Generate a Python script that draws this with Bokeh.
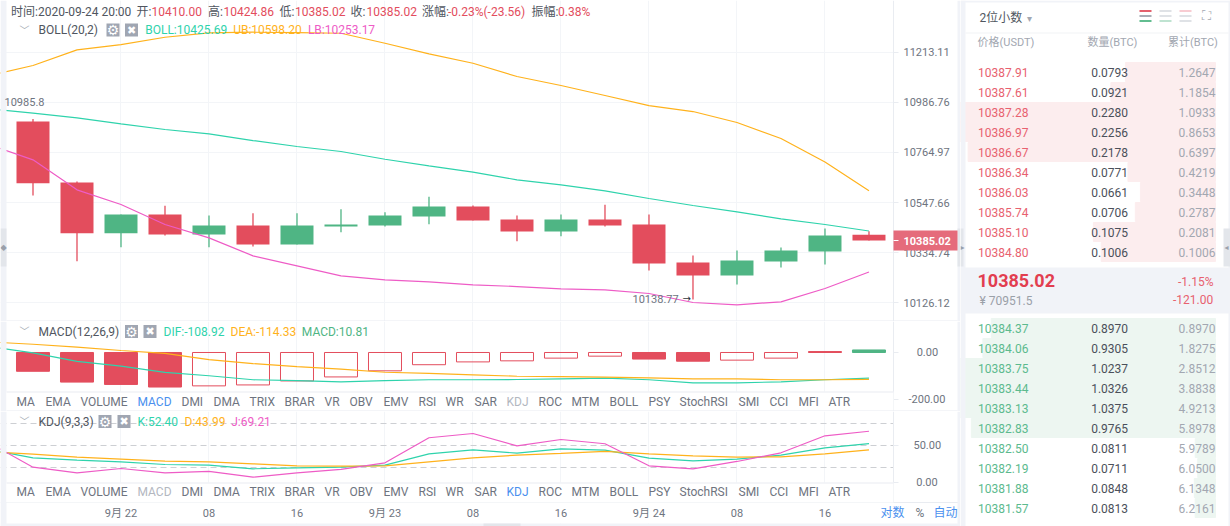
"""BTC/USDT 4h candles with BOLL, MACD and KDJ panes next to an order book."""

from bokeh.embed import file_html
from bokeh.layouts import column, row
from bokeh.core.properties import value
from bokeh.models import BoxAnnotation, ColumnDataSource, FixedTicker, Label, PrintfTickFormatter, Range1d
from bokeh.plotting import figure
from bokeh.resources import INLINE

# candles, one every 4 hours
candle_index = list(range(20))
opens = [10901.8, 10634.0, 10416.3, 10496.1, 10410.9, 10449.1, 10368.4, 10444.9, 10449.1, 10487.5,
         10530.5, 10474.8, 10423.5, 10474.8, 10453.4, 10292.6, 10238.2, 10296.8, 10339.0, 10410.0]
closes = [10630.9, 10416.3, 10496.1, 10410.9, 10449.1, 10368.4, 10449.1, 10453.4, 10491.9, 10530.5,
          10470.5, 10423.5, 10474.8, 10449.1, 10288.4, 10238.2, 10301.1, 10343.1, 10406.6, 10385.02]
highs = [10912.9, 10638.3, 10496.1, 10533.4, 10491.9, 10501.7, 10501.7, 10518.8, 10505.9, 10572.1,
         10534.7, 10491.9, 10496.1, 10537.6, 10496.1, 10322.1, 10343.1, 10355.8, 10436.4, 10424.86]
lows = [10577.7, 10298.1, 10357.1, 10406.6, 10357.1, 10360.0, 10368.4, 10420.6, 10444.9, 10454.7,
        10470.5, 10382.4, 10403.7, 10444.9, 10259.2, 10138.77, 10200.7, 10271.7, 10284.3, 10385.02]

# indicator lines start one candle before the visible window
line_index = list(range(-1, 20))
boll_mid = [10958.4, 10938.8, 10918.3, 10891.5, 10866.3, 10847.3, 10817.6, 10791.3, 10769.3, 10735.5, 10706.6,
            10678.8, 10645.7, 10624.0, 10598.0, 10564.8, 10534.7, 10507.7, 10477.7, 10453.4, 10425.69]
boll_upper = [11108.2, 11153.6, 11225.3, 11249.5, 11283.1, 11303.4, 11306.2, 11304.6, 11301.5, 11255.5, 11207.0,
              11164.1, 11103.7, 11063.0, 11018.0, 10973.1, 10946.3, 10897.3, 10826.5, 10723.2, 10598.20]
boll_lower = [10800.0, 10732.8, 10602.3, 10538.9, 10453.4, 10396.8, 10320.7, 10278.8, 10237.0, 10220.3, 10212.0,
              10199.5, 10192.3, 10182.9, 10178.7, 10163.4, 10126.1, 10116.6, 10129.0, 10184.1, 10253.17]

macd_hist = [-80, -126, -136, -147, -142, -138, -121, -104, -78, -52,
             -40, -35.5, -24, -15.6, -28, -37, -32.6, -24, 4, 10.81]
macd_state = ["fall", "fall", "fall", "fall", "rise", "rise", "rise", "rise", "rise", "rise",
              "rise", "rise", "rise", "rise", "fall", "fall", "rise", "rise", "fall", "up"]
macd_dif = [25.5, -1.3, -38, -58, -85, -99, -116, -120, -125, -120, -116,
            -116, -115, -112, -109, -116, -129, -129, -125, -116, -108.92]
macd_dea = [45, 35, 23, 8.5, -4, -30, -47, -60, -71, -84, -89,
            -95, -101, -103, -105, -108, -112, -112, -116, -116, -114.33]

kdj_k = [44.6, 33.3, 30.2, 27.9, 24.3, 23.4, 18.5, 19.8, 20.7, 23.4, 38.7,
         44.1, 39.6, 45.5, 43.7, 32.9, 29.3, 31.5, 36.9, 46.8, 52.40]
kdj_d = [41.4, 38.3, 34.2, 31.5, 28.8, 27.9, 25.2, 22.5, 22.1, 22.5, 27.9,
         33.3, 36.9, 39.2, 41.9, 38.7, 36.0, 34.2, 34.7, 38.7, 43.99]
kdj_j = [53.6, 20.7, 13.0, 18.9, 13.0, 14.9, 7.2, 13.0, 17.6, 26.6, 60.4,
         66.2, 49.5, 58.1, 52.3, 22.5, 18.5, 28.4, 40.1, 63.1, 69.21]

# axes
time_ticks = [2, 4, 6, 8, 10, 12, 14, 16, 18]
time_labels = ["9月 22", "08", "16", "9月 23", "08", "16", "9月 24", "08", "16"]
price_ticks = [11213.11, 10986.76, 10764.97, 10547.66, 10334.74, 10126.12]
tab_names = ["MA", "EMA", "VOLUME", "MACD", "DMI", "DMA", "TRIX", "BRAR", "VR", "OBV", "EMV", "RSI",
             "WR", "SAR", "KDJ", "ROC", "MTM", "BOLL", "PSY", "StochRSI", "SMI", "CCI", "MFI", "ATR"]

# order book
ask_prices = [10387.91, 10387.61, 10387.28, 10386.97, 10386.67, 10386.34, 10386.03, 10385.74, 10385.10, 10384.80]
ask_amounts = [0.0793, 0.0921, 0.2280, 0.2256, 0.2178, 0.0771, 0.0661, 0.0706, 0.1075, 0.1006]
ask_totals = [1.2647, 1.1854, 1.0933, 0.8653, 0.6397, 0.4219, 0.3448, 0.2787, 0.2081, 0.1006]
bid_prices = [10384.37, 10384.06, 10383.75, 10383.44, 10383.13, 10382.83, 10382.50, 10382.19, 10381.88, 10381.57]
bid_amounts = [0.8970, 0.9305, 1.0237, 1.0326, 1.0375, 0.9765, 0.0811, 0.0711, 0.0848, 0.0813]
bid_totals = [0.8970, 1.8275, 2.8512, 3.8838, 4.9213, 5.8978, 5.9789, 6.0500, 6.1348, 6.2161]

FONT = "Roboto, 'Noto Sans CJK SC'"
RED = "#e34d5d"
GREEN = "#4fb584"
TEAL = "#2fd3ac"
ORANGE = "#ffb21c"
PINK = "#ee5cc6"
BLUE = "#4a90ee"
TEXT = "#505660"
AXIS_TEXT = "#6e7480"
GREY = "#a2a7b1"
RULE = "#e9ecf1"
GRID = "#f3f5f8"
PAGE = "#f1f3f8"
HANDLE = "#e3e6eb"


def box(p, left, right, top, bottom, color, level="annotation"):
    p.add_layout(BoxAnnotation(
        left=left, right=right, top=top, bottom=bottom,
        left_units="canvas", right_units="canvas", top_units="canvas", bottom_units="canvas",
        fill_color=color, fill_alpha=1, line_alpha=0, level=level,
    ))


def text(p, x, y, s, color=TEXT, size=12, align="left", style="normal", font=FONT):
    p.add_layout(Label(
        x=x, y=y, x_units="canvas", y_units="canvas", text=s, text_color=color,
        text_font=font, text_font_size=f"{size}px", text_font_style=style,
        text_align=align, text_baseline="middle",
    ))


# Annotations are clipped to the frame, so the frame fills the whole pane and the
# price axis sits inside it at a fixed location.
def pane(height, y_range, x_axis_location=None, **kwargs):
    p = figure(
        width=960, height=height, x_range=x_range, y_range=y_range, y_axis_location="right",
        x_axis_location=x_axis_location, output_backend="svg", toolbar_location=None,
        min_border=0, outline_line_color=None, **kwargs,
    )
    p.xgrid.ticker = FixedTicker(ticks=time_ticks)
    p.xgrid.grid_line_color = GRID
    p.yaxis.fixed_location = 19.557
    p.yaxis.major_label_text_font = FONT
    p.yaxis.major_label_text_font_size = "11px"
    p.yaxis.major_label_text_color = AXIS_TEXT
    p.yaxis.axis_line_color = RULE
    p.yaxis.major_tick_line_color = RULE
    p.yaxis.major_tick_in = 0
    p.yaxis.major_tick_out = 5
    p.yaxis.minor_tick_line_color = None
    box(p, 893, 960, 0, height, "#ffffff", level="underlay")
    box(p, 0, 6, 0, height, PAGE)
    box(p, 957, 960, 0, height, PAGE)
    return p


def pane_header(p, y, title, title_x, gear_x, close_x):
    text(p, 24, y, "﹀", GREY, 10, "center")
    text(p, title_x, y, title)
    for x, glyph, size in ((gear_x, "⚙", 14), (close_x, "✖", 11)):
        box(p, x, x + 13, y - 6.5, y + 6.5, "#a0a6b2")
        text(p, x + 6.5, y, glyph, "#ffffff", size, "center", font="DejaVu Sans")


def tab_row(p, y, top, active, muted):
    box(p, 6, 893, top, top + 20, "#ffffff")
    box(p, 6, 893, top, top + 1, RULE)
    for name, x in zip(tab_names, tab_lefts):
        color = BLUE if name == active else "#b3b7bf" if name == muted else AXIS_TEXT
        text(p, x, y, name, color)


x_range = Range1d(-0.7386, 21.08)
tab_lefts = [16, 45, 80, 137, 181, 213, 249, 284, 324, 349, 383, 418,
             445, 474, 506, 538, 571, 609, 648, 679, 738, 769, 798, 828]

# BOLL pane with the candles
boll = pane(321, Range1d(10048.0, 11453.4), y_axis_type="log")
boll.yaxis.ticker = FixedTicker(ticks=price_ticks)
boll.yaxis.formatter = PrintfTickFormatter(format="%.2f")
boll.yaxis.major_label_standoff = 5
boll.ygrid.ticker = FixedTicker(ticks=price_ticks)
boll.ygrid.grid_line_color = GRID

candles = ColumnDataSource(dict(
    x=candle_index, high=highs, low=lows,
    top=[max(o, c) for o, c in zip(opens, closes)],
    bottom=[min(o, c) for o, c in zip(opens, closes)],
    color=[RED if c < o else GREEN for o, c in zip(opens, closes)],
))
boll.segment("x", "high", "x", "low", color="color", line_width=1.3, source=candles)
boll.vbar("x", 0.75, "top", "bottom", fill_color="color", line_color=None, source=candles)
boll.line(line_index, boll_mid, color=TEAL, line_width=1.2)
boll.line(line_index, boll_upper, color=ORANGE, line_width=1.2)
boll.line(line_index, boll_lower, color=PINK, line_width=1.2)

box(boll, 6, 957, 320, 321, RULE)
box(boll, 0, 6, 228, 266, HANDLE)
text(boll, 0, 247, "◆", "#9aa0aa", 8, font="DejaVu Sans")
box(boll, 957, 960, 228, 266, HANDLE)
box(boll, 893, 957, 230, 250, "#e56b7b")
box(boll, 893, 898, 239.5, 240.5, "#ffffff")
text(boll, 903, 240, "10385.02", "#ffffff", 11, style="bold")
text(boll, 4, 101, "10985.8", AXIS_TEXT, 11)
text(boll, 632, 298, "10138.77", AXIS_TEXT, 11)
text(boll, 682, 298, "→", "#30343c", 10, font="DejaVu Sans")

for x, s, color in [
    (10.5, "时间:2020-09-24 20:00", TEXT),
    (136, "开:", TEXT), (151, "10410.00", RED),
    (207.5, "高:", TEXT), (223, "10424.86", RED),
    (279, "低:", TEXT), (294.5, "10385.02", RED),
    (350, "收:", TEXT), (366, "10385.02", RED),
    (421.5, "涨幅:", TEXT), (447.5, "-0.23%(-23.56)", RED),
    (531, "振幅:", TEXT), (557.5, "0.38%", RED),
]:
    text(boll, x, 11, s, color)
pane_header(boll, 29.5, "BOLL(20,2)", 38, 106, 124.5)
text(boll, 144.7, 29.5, "BOLL:10425.69", TEAL)
text(boll, 232.7, 29.5, "UB:10598.20", ORANGE)
text(boll, 307.4, 29.5, "LB:10253.17", PINK)

# MACD pane
macd = pane(90, Range1d(-251.1, 131.9))
macd.yaxis.ticker = FixedTicker(ticks=[-200, 0])
macd.yaxis.major_label_overrides = {-200: "-200.00", 0: "\u00a0\u00a0\u00a00.00"}
macd.yaxis.major_label_standoff = 10
macd.ygrid.grid_line_color = None

bar_styles = {"fall": (RED, RED), "rise": ("#ffffff", RED), "up": (GREEN, GREEN)}
macd.vbar(
    candle_index, 0.75, macd_hist, 0,
    fill_color=[bar_styles[s][0] for s in macd_state],
    fill_alpha=[0 if s == "rise" else 1 for s in macd_state],
    line_color=[bar_styles[s][1] for s in macd_state],
    line_width=1,
)
macd.line(line_index, macd_dif, color=TEAL, line_width=1.2)
macd.line(line_index, macd_dea, color=ORANGE, line_width=1.2)

tab_row(macd, 80, 70, "MACD", "KDJ")
box(macd, 6, 957, 89, 90, RULE)
pane_header(macd, 10, "MACD(12,26,9)", 38, 124.5, 143)
text(macd, 163, 10, "DIF:-108.92", TEAL)
text(macd, 230, 10, "DEA:-114.33", ORANGE)
text(macd, 301.3, 10, "MACD:10.81", GREEN)

# KDJ pane, its time axis is the one of the whole chart
kdj = pane(115, Range1d(-59.46, 95.9), x_axis_location="below")
kdj.yaxis.ticker = FixedTicker(ticks=[0, 50])
kdj.yaxis.bounds = (-27.03, 95.9)
kdj.yaxis.major_label_overrides = {0: "\u00a00.00", 50: "50.00"}
kdj.yaxis.major_label_standoff = 15
kdj.ygrid.ticker = FixedTicker(ticks=[20, 50, 80])
kdj.ygrid.grid_line_color = "#cdcfd3"
kdj.ygrid.grid_line_dash = [6, 4]
kdj.xaxis.fixed_location = -27.03
kdj.xaxis.ticker = FixedTicker(ticks=time_ticks)
kdj.xaxis.major_label_overrides = dict(zip(time_ticks, time_labels))
kdj.xaxis.major_label_text_font = FONT
kdj.xaxis.major_label_text_font_size = "11px"
kdj.xaxis.major_label_text_color = AXIS_TEXT
kdj.xaxis.major_label_standoff = -1
kdj.xaxis.major_tick_line_color = None
kdj.xaxis.minor_tick_line_color = None
kdj.xaxis.axis_line_color = RULE
box(kdj, 6, 957, 91, 112, "#ffffff", level="underlay")

kdj.line(line_index, kdj_k, color=TEAL, line_width=1.2)
kdj.line(line_index, kdj_d, color=ORANGE, line_width=1.2)
kdj.line(line_index, kdj_j, color=PINK, line_width=1.2)

box(kdj, 0, 960, 112, 115, PAGE)
box(kdj, 483, 520, 112, 115, HANDLE)
tab_row(kdj, 80, 71, "KDJ", "MACD")
pane_header(kdj, 10, "KDJ(9,3,3)", 38, 98, 117)
text(kdj, 137, 10, "K:52.40", TEAL)
text(kdj, 184, 10, "D:43.99", ORANGE)
text(kdj, 230.7, 10, "J:69.21", PINK)
text(kdj, 880, 101.5, "对数", BLUE)
text(kdj, 915, 101.5, "%", AXIS_TEXT)
text(kdj, 933, 101.5, "自动", BLUE)

# order book: x in page pixels, y in book rows, depth bars on their own reversed scales
book = figure(
    width=270, height=526, x_range=Range1d(960, 1230), y_range=Range1d(22.725, -3.575),
    x_axis_location=None, y_axis_location=None, output_backend="svg", toolbar_location=None,
    min_border=0, outline_line_color=None,
)
book.grid.visible = False
book.extra_x_ranges = {"ask_depth": Range1d(0.2245, -0.0132), "bid_depth": Range1d(1.02, -0.06)}

ask_rows = list(range(10))
bid_rows = [12.8 + i for i in range(10)]
book.hbar(ask_rows, 0.95, ask_amounts, 0, color="#fcedee", x_range_name="ask_depth")
book.hbar(bid_rows, 0.95, bid_amounts, 0, color="#edf6f1", x_range_name="bid_depth")

for rows, prices, amounts, totals, color in [
    (ask_rows, ask_prices, ask_amounts, ask_totals, "#e8616f"),
    (bid_rows, bid_prices, bid_amounts, bid_totals, "#5cba8e"),
]:
    props = dict(y=rows, text_font=value(FONT), text_font_size="12px", text_baseline="middle")
    book.text(x=977.5, text=[f"{v:.2f}" for v in prices], text_color=color, **props)
    book.text(x=1090.7, text=[f"{v:.4f}" for v in amounts], text_color="#4b505a", **props)
    book.text(x=1215, text=[f"{v:.4f}" for v in totals], text_color=GREY, text_align="right", **props)

box(book, 0, 5, 0, 526, PAGE)
box(book, 268, 270, 0, 526, PAGE)
box(book, 0, 270, 0, 2, PAGE)
box(book, 0, 270, 267, 313, PAGE)
box(book, 0, 3, 228, 266, HANDLE)
box(book, 263, 270, 228, 266, HANDLE)
text(book, 0, 247, "▸", "#9aa0aa", 8, font="DejaVu Sans")
text(book, 264, 247, "◂", "#9aa0aa", 8, font="DejaVu Sans")
box(book, 5, 268, 32, 33, "#f1f3f6")
text(book, 19, 17, "2位小数", TEXT)
text(book, 69, 18, "▾", GREY, 10, "center", font="DejaVu Sans")
for left, colors in [
    (179, ("#e4606d", "#a9adb6", "#62bd90")),
    (199, ("#dfe2e6", "#dfe2e6", "#bfe3d1")),
    (219, ("#f8ccd2", "#dfe2e6", "#dfe2e6")),
]:
    for top, color in zip((9.5, 14.5, 19.5), colors):
        box(book, left, left + 12, top, top + 2, color)
text(book, 245.5, 15, "⛶", GREY, 13, "center", font="DejaVu Sans")
text(book, 17, 41.5, "价格(USDT)", GREY, 11)
text(book, 127, 41.5, "数量(BTC)", GREY, 11)
text(book, 207.5, 41.5, "累计(BTC)", GREY, 11)
text(book, 17, 280, "10385.02", "#e23e50", 18, style="bold")
text(book, 19, 300.5, "¥ 70951.5", "#9aa0a8")
text(book, 253, 281, "-1.15%", "#e8616f", align="right")
text(book, 252.7, 298.5, "-121.00", "#e8616f", align="right")

page = row(column(boll, macd, kdj, spacing=0), book, spacing=0)

open("out.html", "w").write(file_html(page, INLINE))
